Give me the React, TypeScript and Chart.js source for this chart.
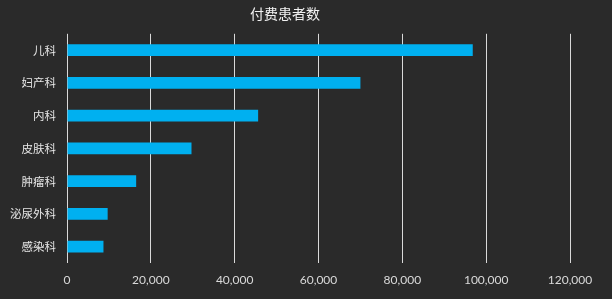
import React, { useEffect, useRef } from "react";
import { Chart, registerables } from "chart.js";

Chart.register(...registerables);

const TITLE = "付费患者数";
const categories = ["儿科", "妇产科", "内科", "皮肤科", "肿瘤科", "泌尿外科", "感染科"];
const values = [96800, 70000, 45600, 29700, 16500, 9700, 8700];
const xMax = 120000;
const xStep = 20000;

export default function App() {
  const ref = useRef<HTMLCanvasElement | null>(null);

  useEffect(() => {
    if (!ref.current) return;
    const chart = new Chart(ref.current, {
      type: "bar",
      data: {
        labels: categories,
        datasets: [
          {
            data: values,
            backgroundColor: "#00b0f0",
            borderWidth: 0,
            barPercentage: 0.36,
            categoryPercentage: 1,
          },
        ],
      },
      options: {
        indexAxis: "y",
        animation: false,
        responsive: true,
        maintainAspectRatio: false,
        layout: { padding: { left: 0, right: 42, top: 0, bottom: 0 } },
        plugins: {
          legend: { display: false },
          tooltip: { enabled: false },
          title: {
            display: true,
            text: TITLE,
            color: "#f2f2f2",
            font: { family: '"Noto Sans CJK SC", sans-serif', size: 14, weight: "normal", lineHeight: 1.2 },
            padding: { top: 5, bottom: 12 },
          },
        },
        scales: {
          x: {
            min: 0,
            max: xMax,
            ticks: {
              stepSize: xStep,
              color: "#d9d9d9",
              padding: 10,
              font: { family: 'Lato, "Noto Sans", sans-serif', size: 12 },
              callback: (v: any) => Number(v).toLocaleString("en-US"),
            },
            grid: { color: "#d9d9d9", lineWidth: 1, drawTicks: false },
            border: { display: false },
            afterFit: (s: any) => {
              s.height = 36;
            },
          },
          y: {
            ticks: {
              color: "#e6e6e6",
              padding: 11,
              font: { family: '"Noto Sans CJK SC", sans-serif', size: 11.5 },
            },
            grid: { display: false, drawTicks: false },
            border: { display: false },
            afterFit: (s: any) => {
              s.width = 67;
            },
          },
        },
      },
    });
    return () => chart.destroy();
  }, []);

  return (
    <div
      style={{
        position: "fixed",
        left: 0,
        top: 0,
        width: 612,
        height: 299,
        background: "#2a2a2a",
      }}
    >
      <canvas ref={ref} />
    </div>
  );
}
